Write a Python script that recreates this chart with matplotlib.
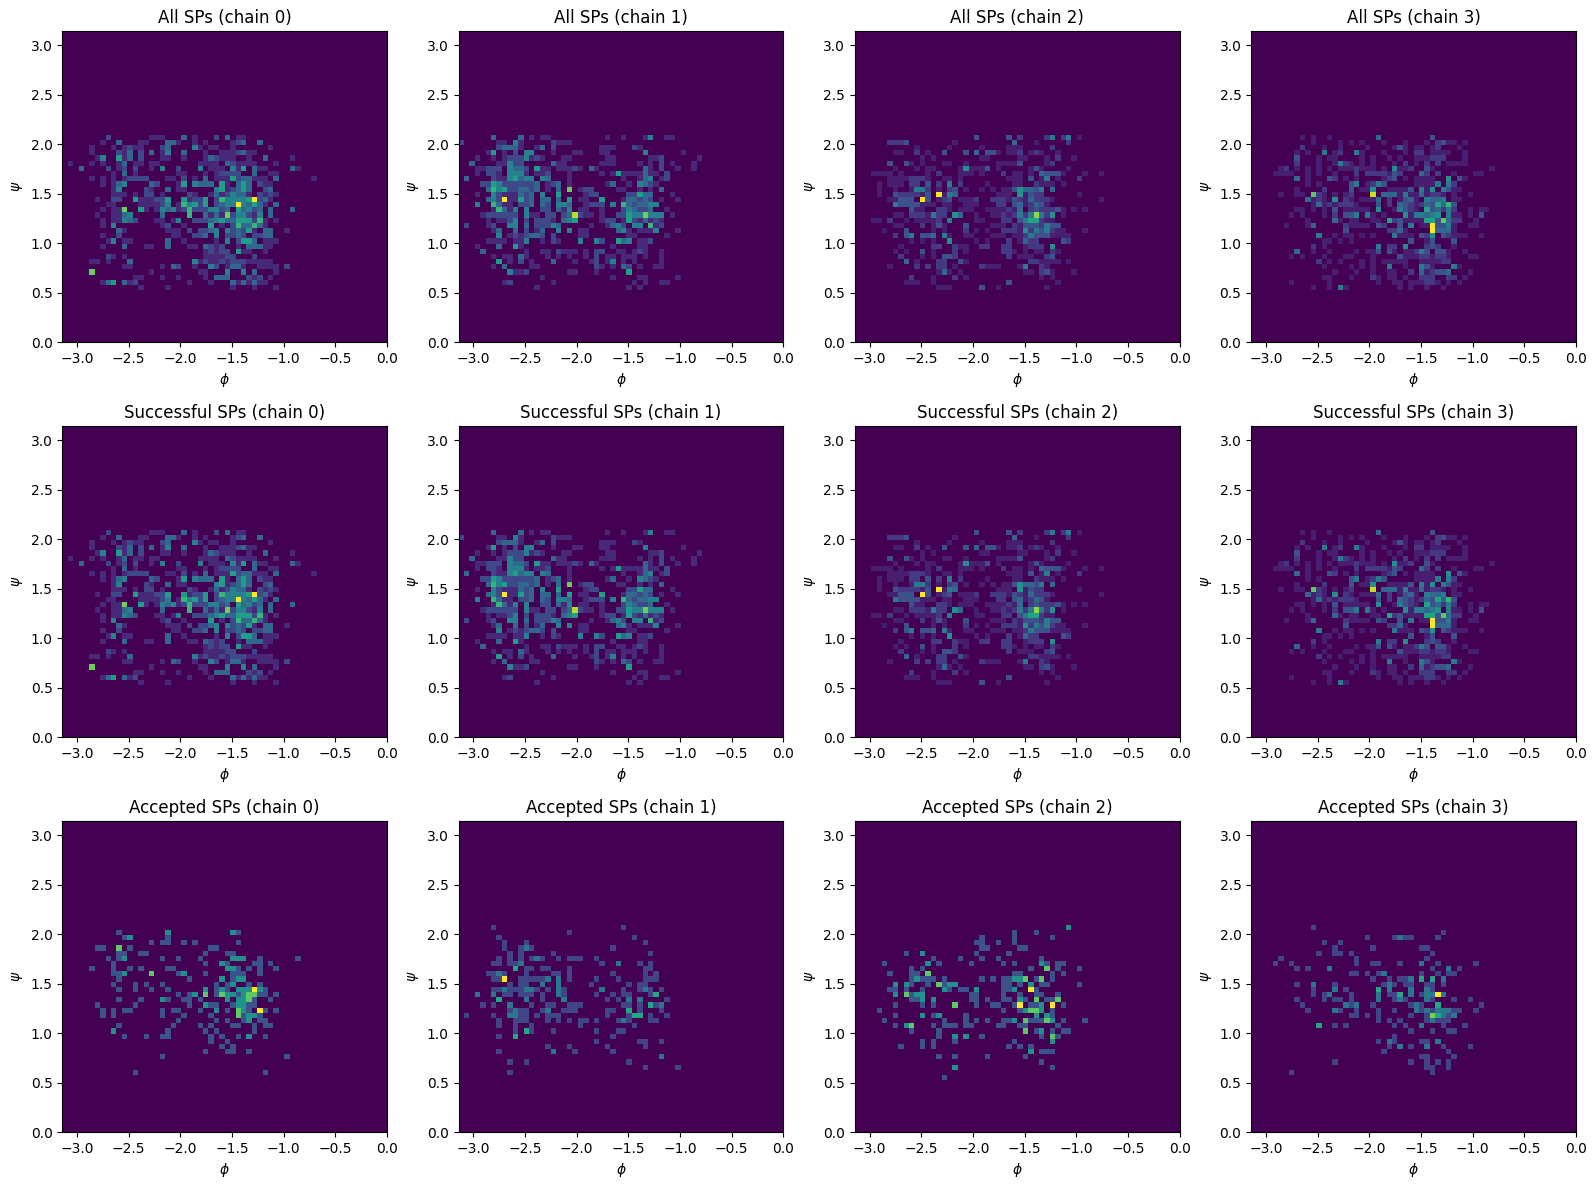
import numpy as np
import matplotlib
matplotlib.use("Agg")
import matplotlib.pyplot as plt

# Histogram grid over phi in [-pi, 0] and psi in [0, pi].
N_BINS = 60
TOP_BINS = [40, 40, 42]  # psi bin of row 0 in the tables of each SP set

# Bin counts per row, written as "column:count" or "first-last:count".
ALL_0 = {
1: "8:2 16-18:1 22:3 24:1 28:2 30:3 32-33:1",
2: "7:1 10:3 14-15:1 19-20:3 21:1 24:1 26:1 31:1 32:2 33:3 36:3",
3: "5:1 9:1 11:1 12:2 13-14:1 18:2 19:3 24:4 25:1 27-28:1 31:1 38:1",
4: "5:1 10:2 11:1 12:3 14:2 16:3 18:1 19:4 22:3 26:1 29-31:1 32:2 33:3 34-35:1",
5: "6:1 7:4 10:5 11:1 12:3 14:2 18-19:1 22:1 26:1 27:3 28:2 29-31:1 34:1 37:3 42:1",
6: "1:1 5:1 7:1 10:1 11:3 13-14:1 16-17:1 25-28:1 30:3 31:2 32-35:1 39:1",
7: "3:3 8:2 10:1 11:2 13:2 16:1 18:4 21:2 25:4 27-29:1 31:4 32:1 33:5 35:3 36-37:1 42:3 43:1",
8: "9:1 11:3 13:1 21-22:1 26:1 28:1 29-32:2 35:3 38-39:1",
9: "5:1 7:1 9:1 11:1 12-15:2 19-20:1 22:2 24:1 26:3 28-30:1 31:5 32:2 33-34:3 35-37:1 39:3 46:1",
10: "7:1 9:1 10:3 11:4 16:3 17:2 21:1 22:5 24:4 25-27:3 29:5 30:1 32:3 33:5 34:3 36:2 37-38:1",
11: "9:1 10:4 15:2 16:1 19:3 21-22:1 28:4 29:5 30:1 31:2 32:3 33:5 34:3 37:2 38:3",
12: "9-11:1 13:1 15-16:2 18:1 23:2 24:1 27:1 28:3 29:1 30:2 31:4 32-33:3 34:1 36:2 37:1 38:2 39:1",
13: "6:1 9-10:2 13:5 14-16:1 17-18:2 19:5 22:5 23:1 24-25:2 26:5 28:2 29:6 30-33:4 34:5 35:9 36:2 37:3 38:1",
14: "8-9:1 14-17:1 18:2 19:4 21:1 22:6 23:4 24:5 25:2 26:5 28:2 29:3 30-31:4 32:9 33:4 34:3 35:5 36:3 37:1 39:3",
15: "7:1 9-10:1 11:7 14:5 15:1 17:1 18:4 19:3 20:4 21:1 22:2 23:6 24-26:2 27-28:4 29:2 30:3 32:5 33:3 34:4 35:2 36:3 38:3 42:3",
16: "6:1 9-10:1 11:3 12:4 18:3 23:6 26:3 27:1 28:3 29:1 30:7 31:2 32-33:4 34:2 35:1 36:4 38:3",
17: "7:1 9-10:1 11:4 12:3 13:2 17-18:1 20:1 21:4 24-26:2 27:3 28:4 29:5 30-31:3 32-34:5 35:2 36:6 37:1 39:1",
18: "7:1 9:4 18:1 19:2 22:1 27:5 29:1 31:2 32:6 33-34:3 35:6 36:3 37:1",
19: "10:3 11:1 19-21:1 23:2 25-26:2 27:3 28:4 30:4 31:2 32:3 33:2 34:5 35:1 37-38:3 41:1",
20: "7:1 10:2 20-21:1 24-25:2 26:3 28:4 30-31:2 32:3 33:2 35-36:2 37-38:3",
21: "8:1 9:4 11-12:1 19:3 22:1 28:1 30:4 32:2 33-34:5 35:3 37-39:1",
22: "7:1 11:3 15-16:1 19:3 23-24:1 26:3 27:2 28:1 29:2 32:1 34-36:3 37-38:1",
23: "26:1 27:2 28:1 29-30:2 32:5 33-34:1 37:1",
24: "8:2 9:1 11:1 26-29:1 30-31:2 35:2",
25: "5-6:1 8:1 12:3 24:4 25:1 26:2 27-28:1 29:2 30:1 31-33:2 34-38:1",
26: "11-12:1 18:1 20:3 21:2 24:1 27:4 28:2 30:1 31-32:3 33:1 36-39:1 41:2",
27: "5:7 16:1 25-26:1 30:4 33:4 35:3 39:1",
28: "13-14:1 18:1 21:1 26:1 28-30:3 34:2 35:1 36:2 38:1",
29: "7:1 8:3 9:5 11:3 12:1 13:2 23:1 27:1 31:3 32:1 33:3 34:1 35:3 36-37:1",
30: "14:1 19:1 31:1 35:1 39:1",
}

ALL_1 = {
1: "6:3 11:3 13:1 15-16:1 27:1 30:1 34:1 35:4 38-39:1",
2: "0:2 7-8:1 10:4 11:1 17:2 18-20:1",
3: "7:2 8-10:3 11:1 14:1 15:3 17:2 26-27:1 28:1 32:2 33:1",
4: "5:1 6:5 8:1 10:2 12-13:4 17:1 21-22:1 26-27:1 34:4 41:1",
5: "3:1 6:1 8:1 9-11:2 12:4 13:1 14:2 15:1 19-20:1 27-28:1 35-36:1 37:2 44:1",
6: "2:3 7-8:1 9:4 10-11:2 17:3 18-19:1 26-28:1 33:1 35:1 37:2 39:1 43:1",
7: "3-4:1 5-7:2 9:4 10-11:3 12:2 14:5 15-16:1 18-20:1 21:2 22:1 24:3 25:1 34:3 35:1 37:2 40:1 43:1",
8: "3:1 5-6:2 7:1 9-11:4 12:1 14-15:1 16:2 20:1 26:1 28:1 29:5 30-33:1 34:3 35-36:1 38:2",
9: "1:3 6:2 7-8:1 9:4 10:5 11:3 12-13:4 15:4 16:3 20:1 30:1 33:1 34:3 35:4 37:1 38:2",
10: "4-5:2 6:5 7:4 8-13:2 14:3 16:1 17:2 18:3 20:1 27:1 28:3 31:1 33:4 34:3 35:2 36:1",
11: "5:3 6:6 7:4 8:5 9-10:2 11-12:3 13:2 14:3 16:1 18:3 20:7 22:1 23-24:2 29-30:1 33:1 35:1 37:3",
12: "3:1 6:4 7:2 8-10:1 11:3 12:2 13:3 15:4 18:5 23:1 24-25:2 31-32:2 33:5 34-35:3 39:1",
13: "5:3 6:4 7:2 8:9 9-10:1 11:5 12:2 13:3 15-16:3 18:3 20:5 22-23:1 26:5 30:1 31-32:3 33:2 34:3 35:2 37:1 40:1",
14: "3:4 6:6 7:3 8-9:1 11-12:2 13:3 15:3 16:2 18-19:4 20:3 23:1 24-26:2 28:4 30:6 31:3 32:2 33-34:3 35-36:4",
15: "6:1 7:6 8:3 9:1 10:4 12:4 15-16:2 18:3 19:1 20:4 22-23:1 26:1 30:2 31:4 32:3 33-34:2 35:3 38:1",
16: "4:1 5-10:2 12:4 13-14:1 16-17:2 19:2 20:3 21:8 22:2 23-24:1 26:1 29-30:2 31:5 32-33:4 34:7 35-37:4 39:1",
17: "5:1 7-8:1 9:2 10:4 12:2 14-16:2 17:1 19:3 20:4 21:5 26:1 27-28:2 30:1 31:5 32:2 33:1 34:3 35:1 36:2 37:1",
18: "1:2 5:1 6:2 9-10:4 12:3 14-16:2 17:4 18:3 24:1 27:1 28:3 29:4 30:2 32-33:4 35:6 36:1 37:2",
19: "6:1 7:3 10:3 12:2 14:1 15:3 18:4 20:4 22-23:1 29:3 30:4 31:1 33-35:1 36:4 40:1",
20: "7:4 9:1 10:2 11:1 12:2 13-14:3 15:2 17:2 22-23:1 31-32:1 38:1",
21: "5-8:1 10-11:1 12:4 15:1 17:2 18:1 22:4 25:4 26:2 29:5 30:3 31:4 33-34:1 35:2",
22: "3:1 7:3 10:5 11:1 28:1 33-34:1",
23: "4:3 12:1 15-16:1 18:2 19-21:1 23:1 25-26:2 29-30:1 32:1 33:2 34:1 37:1",
24: "6:1 8-9:1 11:3 12:1 16:1 18:1 20:1 23:1 25:2 27-28:1 30-32:1 34:1 37:1",
25: "7:5 9:1 11:2 13:1 17:3 21:1 24:1 25:2 27:1 28:4 30:1 32:1 37:1",
26: "6:1 8:3 13-14:1 25:2 26:1 28:1 30:3 31:2 33:1 36-37:1",
27: "9:4 10-11:1 12:2 20-21:1 25:1 31:5",
28: "15:1 28:1 33-34:1 40:1",
29: "8:1 9:2 17:1 32:1 34:1 37-38:1",
30: "14:1 31:1 33:1",
}

ALL_2 = {
1: "22:3 28:3 30:2 35:2 36:5 38:2 39:5 41:1",
2: "6-8:2 9:3 18:1 29:4 33:1 39:2",
3: "11:1 17:1 23:1 28-29:1 30:1 36:2",
4: "7-8:1 11:2 13:1 16:3 20:3 22:4 24-25:3 26:1 28-29:1 30:2 32:1 33:2 34:1 37:1",
5: "12:1 14:1 23-24:1 30-31:1 35:1 37:2 40:1",
6: "6:3 9:3 10:1 12:1 16-17:1 20:1 26-29:1 30:3 35:1 36:2",
7: "7:1 11:1 13-14:1 19:1 20:6 21-23:1 24:3 26:1 32:1 33:3 34:1 39:1",
8: "3-6:1 8:1 13:1 15:2 19-21:1 23:1 27:2 29-30:1 32:1 34:4 35-37:3 38:1 42:1 45:1",
9: "6-9:1 10-12:2 13:1 16-17:1 19:1 28-30:1 32:3 34:1 35:5 37:1 41:2",
10: "4:1 6-8:1 10-11:2 13:3 15:2 17:5 19:2 24:1 29-30:1 33:2 34-36:1 38:1",
11: "4:1 7:1 10:1 11-12:5 13:2 15:1 17:2 18:3 20:1 23:1 25:1 27-28:1 29:3 30:6 31-32:4 33:3 34:5 36:4",
12: "4:1 7:3 8-11:2 12:1 13:3 15:12 16:1 17:5 18:4 26-28:1 30:6 31:1 32:3 33-34:2 41:1",
13: "6-7:1 8-10:3 12:12 13:3 15:1 16:2 17:3 19-21:1 22:2 25-27:2 28:1 29:3 30:2 31:1 32:4 33-35:2 36:1 45:1",
14: "7:5 8-11:3 12-14:1 16-17:1 20-22:1 26-27:2 29:3 30:4 31:1 32:2 33:4 34:3 35:1",
15: "10:3 11-12:1 15-16:2 17:1 19-21:1 24-27:1 28:2 29:1 30:4 32:2 33:3 34-36:2 37:3 38:1 40:1 42:1",
16: "7-8:1 10-12:2 13:1 14:5 15-16:2 18:6 19:4 22:1 25-26:1 27:2 28:1 29:2 30:5 31:2 32:5 33:10 34:5 35:2 36:6 38:1",
17: "3-4:1 6:2 9:1 11-14:1 15:2 17:5 22-23:1 27-28:2 30:3 31:5 32-33:7 34:2 35-36:1",
18: "7-8:1 12:2 14:1 15:3 16:1 20:3 25-27:1 29:2 30:1 31-33:3 34:2 35:5 36-37:3",
19: "5:1 9:3 14:1 16:1 20:2 22:1 24:1 27-29:2 30:1 31:6 32:2 33:5 34:3 35:5 36:2 37-38:1 42:1",
20: "7:2 9:3 10:5 12-13:3 14:4 16:5 17:1 20-21:1 25-27:1 29-30:1 31:2 32:5 33-35:3 36-39:1",
21: "10:1 12:1 14:1 17:6 22:1 24:1 28:2 30:1 31:4 32-33:2 38:3 39:2",
22: "8:1 14-15:2 18:2 19-20:1 23-24:2 27-28:2 31:1 32-34:2 36:6",
23: "7:1 9:1 12:3 14:1 18:2 20:1 27-28:2 29:1 31:1 33-34:1 36:2 37:1",
24: "8:2 12:1 14:1 16-17:3 18:2 28:2 30-32:1 35:2 36:3",
25: "9:4 11:1 15-16:2 19:3 20:1 32-33:2 34-37:1 39:1",
26: "6:1 11:2 13:2 15-16:2 18:1 23:2 24-26:1 30:1 31:5 34:2 35:1",
27: "15:1 16:4 17:1 19:1 31-32:1 34:2 35:3 36:1 40:1",
28: "10:2 14:1 18:2 20:1 34:1 36:1",
29: "9-11:1 14:1 28:3 37:1",
30: "15-17:1 23:3 26:1 35:1",
}

ALL_3 = {
1: "9:1 11:1 14:1 23:4 33:3",
2: "11:1 16:1 18:1 20:1 24:1 28:1 32:1 34:2 35:3 36-37:1 39:1",
3: "9:2 13:1 16:1 21:1 26:1 27:3 28:1 30-31:1 33:1 34:2 38:1",
4: "8:1 10:1 13:5 15:1 16:2 19:5 20:1 24:1 28:1 30-31:2 33:1 34-36:1 39:1",
5: "8:3 12:1 14-15:1 20:1 22:1 25:1 27:1 30-32:1 33-35:2 39:1",
6: "8:2 12:1 15:1 16:5 17:2 18:1 20:1 22:1 26:1 28:2 30:1 32:2 34:2 36-39:1",
7: "5:1 6:2 8:1 10:1 12:1 14:1 16-18:1 19:2 20-22:1 24:1 26:6 27-28:1 29:2 32:3 33:1 44:1",
8: "4-7:1 10:1 12:1 15:1 19:2 21-24:2 25:1 26:3 27:2 31:4 32:2 34:2 37:1 41-42:1",
9: "8:4 10:1 14:3 15:2 17:1 19:1 24:1 25:2 26:3 28:1 30:1 31-33:1 36:6 38:3 39:1",
10: "10:1 12:1 18:3 19:5 21:1 22:2 23:5 24:3 30-33:1 34:5 36:5 37:2",
11: "8:1 13:2 18:3 20-21:1 22:6 25-28:1 29:3 31:5 32:1 33:6 35:5 36:3 37-38:1",
12: "5:1 8-9:1 11:9 12:2 13:1 15:1 17:1 18:2 22:11 24-26:4 27:1 28:5 29-30:1 31:4 32:1 33-34:2 35:1 37:1 40:1",
13: "10:4 11:1 12:2 13:1 15:6 17:2 18:1 20-22:1 23:4 25:2 27:1 28:3 29:4 30:1 32:5 33-34:4 35:5 37-38:1",
14: "11:1 12:4 13:1 14:2 15:1 16-18:2 19:1 23:3 25:2 27:4 28:3 29:2 30:1 31:2 32:4 33:3 34:7 35:4 36:8 37:3",
15: "8-9:1 11:1 13:1 15:3 17-21:1 23:6 26:1 27:5 28:3 29:2 30:1 32:7 33:3 34:4 35:2 36:5 37:2 40:1 42-43:1",
16: "7:1 9:1 13:1 15:2 17-18:3 19:5 21:5 22:1 24:1 28:6 29:1 30-31:5 32:4 33:5 34:6 36:5 37-38:1 40:1 42:3",
17: "10:1 15:4 16:1 18-19:1 22-23:1 25:7 26:2 27:3 28-31:1 32-33:7 34:3 35:9 36:4 37-38:2 41:1",
18: "6:1 10:1 11:4 17:2 18-21:1 23:3 24:2 27:3 29:5 31-32:1 33:12 34-35:3 36:5 37:1 40-41:1",
19: "17:3 25-26:2 27:4 28:1 33:12 34-36:4 37:1",
20: "12:5 15:1 17-18:1 20:1 22:1 26:5 27-29:1 31:3 32:2 33:6 35:3 36:2 37-39:1 42:1",
21: "13-14:1 16:1 18:1 29:3 32:1 33:3 37:3",
22: "11:2 13:1 23:5 25-26:2 28:6 32:2 33:3 34:2 37:1",
23: "8:4 11:1 14:1 19:1 21-22:1 23:3 25:3 26:1 28-29:1 30:2 31:5 32:3 34-35:3 36:1 39:1",
24: "7:1 9:1 13:1 17-18:1 22:1 27:3 28-30:1 31-32:2 33:1 34-35:2 36:1 40-41:1",
25: "12:2 14:1 16:1 20:1 22:1 24:1 25-28:1 31-34:1 35-36:2",
26: "13:1 18:1 20:1 22:1 25:5 28:1 31:5 32:3 33:1 37:5 38:1",
27: "15:1 19:1 22:1 25-26:1 29:2 31:4 32:1 33:2 34-35:3 36:4 40:1",
28: "13-14:1 18:1 22:2 23:1 25-26:1 28:1 31-33:2 36-37:2 39:1",
29: "7:1 14:1 23:1 26-27:1 29-31:1 32-33:2 34:1 36:1 38:1",
30: "11:1 14:1 16:5 17:1 27:1 29:1 32:1 35:1",
}

# Nearly every saddle point converged, so these tables read the same as the full sets.
SUCCESSFUL_0 = ALL_0
SUCCESSFUL_1 = ALL_1
SUCCESSFUL_2 = ALL_2
SUCCESSFUL_3 = ALL_3

ACCEPTED_0 = {
4: "10:1 19:2 31:2 32:1",
5: "11:1 12:2 19:1",
6: "16:1 18-19:1 22:1 24:1 32:1",
7: "6-7:1 10:3 12:1 27-28:1",
8: "10-11:1 14-15:1 26:1 30-31:1",
9: "8:1 10:1 11:2 18:1 21:1 25:1 31-33:2 36:1 43:1",
10: "9:1 26:1 29:2 30:1 35-36:1 38:1",
11: "5:1 9:1 12:1 14:1 19-20:1 30-31:2 32:1 34:1 36:1 39:1",
12: "9-10:1 11:2 16:3 21:1 22:2 26:1 31-33:1 36:1",
13: "10:1 23:1 29:2 31:1 32-33:2",
14: "9:1 13:1 15:1 18:1 28:1 30:1 31:2 34:1 36:1",
15: "10:1 13:1 16:1 19:1 26:2 28:1 29:2 30:1 32-34:2 35:4 36:2 37:1",
16: "21:1 23:1 24:2 26:3 28:1 29:3 30-31:2 32:1 33:2 34-35:3 36-37:1 39:1",
17: "10:1 14:1 18:2 19:1 22-23:1 25:1 30:2 32-33:2 34:3 35:1 38:1",
18: "6:1 13:1 23:1 26:2 27-28:1 31:1 32-33:2 34-35:1",
19: "7:1 9:1 11-12:1 18:1 20-21:1 25:1 28:2 30:1 32:3 33:2 34:1 36:4 37:1 39:1",
20: "7:1 9:1 18:1 22:1 27:1 32:3 33:1 34-35:2 36:1",
21: "21:1 28:1 30:1 33:1 34:2 36-37:1",
22: "10:1 20:1 25:1 27:1 31-32:1 35:1 37-38:1",
23: "9:2 19:1 26:1 28:1 35:1",
24: "11:1 15:1 18-19:1 27:1 29:1 32:1 34:2 37:1",
25: "27:1 30:1",
26: "29:1 31:1",
27: "26:1 30-31:1 34:1",
28: "18:1 41:1",
31: "13:1 37:1",
}

ACCEPTED_1 = {
3: "6:1 30:1",
4: "20:1",
5: "7:1 32:1",
6: "8:1 12:1 34:1",
7: "8:1 11:1 12:2 13:1 28:1",
8: "9:1 11:1 17:1 35:1",
9: "7:1 9:1 11:1 13:1 14:2 15:1 18:1 20-22:1 25:1",
10: "6-7:1 9-10:1 11:2 26:1 29:2 33:1 35:1",
11: "10:3 12-13:1 15-16:1 20:1 34-35:1",
12: "5-6:1 7:2 8:1 12:1 17-18:1 20:1 28:1 34:1 36:1",
13: "6-7:1 8:5 11-15:1 16:2 18:2 20:1 25:1 29:1 34-36:1",
14: "9:1 11-12:1 15:2 18:2 24:1 31:1 33-34:1",
15: "6-7:1 8:2 9-11:1 12-13:2 14:1 16:1 18:2 19:1 26:2 30:1 33:1 34:2 35:1 37:1",
16: "3:2 6:2 8-9:1 11-13:1 15:1 18:2 19:1 25:1 28:1 30-31:1 35:1 36:3",
17: "7:3 12:2 15:1 19:2 27:1 29:1 31:2 33:2 38:1",
18: "4:1 6:1 9:2 13:1 16-17:1 20-22:1 30-31:1 33:1 35:3 36:1 37:2",
19: "9:1 10:2 11-12:1 15:1 16:2 19-21:1 27-28:1 31:3 33:1 37:1",
20: "1:1 6:1 9-10:2 11-12:1 14:1 16-18:1 27:1 31:1 32-33:3 35:1 38:1",
21: "7:1 10:1 11-12:1 16:1 18:1 20:1 22-23:1 25:1 29:1 30:2 31:1 35-36:1",
22: "7:1 10:1 13:1 22:1 32:1",
23: "10:1 12:3 13:1 17:1 25:1 29-30:1",
24: "7:1 10:3 28:1",
25: "25:1 33-34:1 37:1",
26: "16:1 20:1 27:1 34:1",
27: "7:1 17:2 21:1 28:1",
28: "37:2",
29: "9:1 12:1 31:1",
30: "34:1 40:1",
31: "9:1",
}

ACCEPTED_2 = {
3: "39:2",
4: "29:1 33:1",
5: "23:1 29:1 36:1",
6: "22-23:1 26:1 29:1",
7: "23-24:1 30-31:1",
8: "9:1 12:2 22:1 28:1",
9: "14:1 19:1 23:1 26:1 34:1",
10: "5:1 13:2 15:1 21:1 27:1 29:1 34:2 35:1 37-38:1",
11: "10:1 12:1 32:1 35:3 37:1 41:1",
12: "6:1 10-11:1 13:3 29-30:1 36:1 38:1",
13: "10:1 11:2 12-14:1 16:1 23:1 25:1 27-28:1 29-30:2 31:3 33:1 34:3 36:1",
14: "7:2 9:2 10:1 13:1 15:3 16:1 17-18:2 27-28:1 30:1 32:2 34-35:1 41:1",
15: "6-7:1 9:1 12:1 16:2 17:1 19-20:1 22:2 27-28:1 29:2 32:4 33:1",
16: "7:2 9:3 10:1 11-12:2 21-22:1 27:1 30:1 33-34:1 37:1",
17: "10-11:1 12:2 14:2 21-22:1 24:1 27-28:1 30:2 31:1 33:3 35-36:1 37:3",
18: "7:1 12:1 14:1 18:3 22:1 25-26:1 29:1 30:4 32-33:1 34:2 36:4 38:1",
19: "4:1 27:1 30:1 31:2 32-33:3 34:2 36:1",
20: "7:1 12:2 14:1 15:2 20:1 33:2 35:2 36:1",
21: "5:1 16:1 20:1 22:1 24:1 27-28:1 29:2 31:3 32-34:1 35:3 36:2 38:1 42:1",
22: "7:1 9:2 10:3 14:1 16-18:1 20-21:1 26-27:1 30-31:1 37:1",
23: "10:1 15:1 31:3 33:1 34:2 36:1 38-39:1",
24: "15:1 18:2 20:2 23:1 34:1 36:3 37:1",
25: "12:1 14:1 18:1 29:1 36:2",
26: "8:1 12:1 14:1 28:1 30:1 32:1",
27: "32:2 34-36:1",
28: "15:1 18:1 24:1 31:1",
29: "34:1",
30: "18:2 36:1",
32: "16:1",
}

ACCEPTED_3 = {
3: "11:1",
4: "35:1",
5: "21:1 26:1 27:2 28-29:1 34:1",
6: "13:1 16:1",
7: "15:1 22:1 31-32:1",
8: "12:1 15-16:1 18:1 33:1",
9: "5:1 19:1 32:1",
10: "4:1 7:1 19:1 22-23:1 27:1 31:2 34:1 41:1",
11: "8:1 10:1 14:2 33:1 36:2 38:1",
12: "18-19:1 21:1 23:1 24:2 31:1 34:1 36-37:1",
13: "22:1 25:1 27-28:1 29:2 31:3 33:3 35:2",
14: "8:1 11:2 15:1 24:1 25:2 26:1 28-29:1 32-33:1 35:1",
15: "11:1 15:2 17:1 23:3 25:2 29:2 32:2 33:1",
16: "11:1 13:1 14:2 18:1 23:2 25-26:1 27:3 29:2 31:1 32-33:2 34:5 35:2",
17: "8:1 13:1 15-16:1 18:1 23:2 26:1 27:2 28:1 32:2 33:1 37:1 40:1",
18: "9:1 17:2 18:1 19:2 22:1 29:1 30:2 31:1 34:3 42:1",
19: "10:1 15:2 16:1 19:1 23:1 26:1 30:2 31:1 32:2 33:1 34-36:2 37-38:1 41:1",
20: "18-19:1 21:1 23:1 29:1 32:1 33:4 34:3 35:2 36:1 37:2",
21: "23:1 25:1 27:1 32:1 33:2 34-36:1",
22: "12:3 15:1 17:1 26:1 28:1 31:2 35:1 39:1",
23: "29:1 33:1 36-37:1",
24: "26:1",
25: "23:1 25:2 26:1 31-32:1 34:2",
26: "25:1 27:2 29:1 32:2 35:1 40:1",
27: "24:1 36:1",
28: "31-32:1 37:1",
29: "15:1 29:1 32:1 34:1 36:1",
30: "32-33:1 36:1",
31: "7:1 33:1",
}

SP_SETS = ["All", "Successful", "Accepted"]
TABLES = [
    [ALL_0, ALL_1, ALL_2, ALL_3],
    [SUCCESSFUL_0, SUCCESSFUL_1, SUCCESSFUL_2, SUCCESSFUL_3],
    [ACCEPTED_0, ACCEPTED_1, ACCEPTED_2, ACCEPTED_3],
]


def to_counts(table, top_bin):
    """Expand a sparse row table into a psi-by-phi count array."""
    counts = np.zeros((N_BINS, N_BINS))
    for row, text in table.items():
        for token in text.split():
            cols, value = token.split(":")
            first, _, last = cols.partition("-")
            last = last or first
            counts[top_bin - row, int(first):int(last) + 1] = float(value)
    return counts


phi_edges = np.linspace(-np.pi, 0, N_BINS + 1)
psi_edges = np.linspace(0, np.pi, N_BINS + 1)

fig, axes = plt.subplots(3, 4, figsize=(15.96, 11.89), dpi=100)
fig.subplots_adjust(left=62.3 / 1596, right=1576 / 1596,
                    top=1 - 31 / 1189, bottom=1 - 1132 / 1189,
                    wspace=0.22, hspace=0.27)

for i, name in enumerate(SP_SETS):
    for chain in range(4):
        ax = axes[i, chain]
        ax.pcolormesh(phi_edges, psi_edges, to_counts(TABLES[i][chain], TOP_BINS[i]),
                      cmap="viridis")
        ax.set_title(f"{name} SPs (chain {chain})")
        ax.set_xlabel(r"$\phi$")
        ax.set_ylabel(r"$\psi$")

fig.savefig("out.png", dpi=100)
